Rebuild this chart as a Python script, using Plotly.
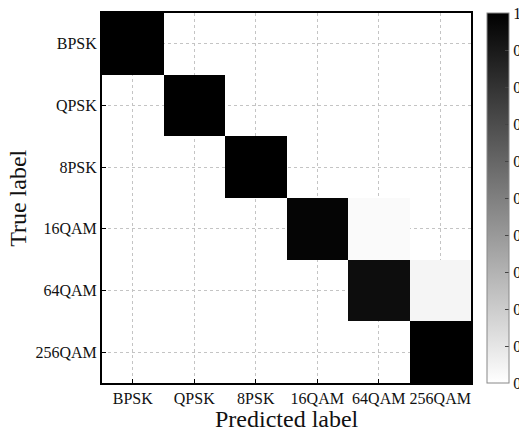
import plotly.graph_objects as go

classes = ["BPSK", "QPSK", "8PSK", "16QAM", "64QAM", "256QAM"]
# rows = true label, cols = predicted label
z = [
    [1.00, 0.00, 0.00, 0.00, 0.00, 0.00],
    [0.00, 1.00, 0.00, 0.00, 0.00, 0.00],
    [0.00, 0.00, 1.00, 0.00, 0.00, 0.00],
    [0.00, 0.00, 0.00, 0.98, 0.02, 0.00],
    [0.00, 0.00, 0.00, 0.00, 0.95, 0.04],
    [0.00, 0.00, 0.00, 0.00, 0.00, 1.00],
]
cbar_ticks = [0, 0.1, 0.2, 0.3, 0.4, 0.5, 0.6, 0.7, 0.8, 0.9, 1]
cbar_text = ["0", "0.1", "0.2", "0.3", "0.4", "0.5", "0.6", "0.7", "0.8", "0.9", "1"]

zplot = [[v if v > 0 else None for v in row] for row in z]

font = "Liberation Serif, Times New Roman, serif"
txt = "#111111"

fig = go.Figure(go.Heatmap(
    z=zplot,
    x=list(range(len(classes))),
    y=list(range(len(classes))),
    zmin=0, zmax=1,
    colorscale=[[0, "#ffffff"], [1, "#000000"]],
    colorbar=dict(
        x=1.043, xanchor="left", xpad=0, y=0.5, yanchor="middle",
        len=1, lenmode="fraction", thickness=22, thicknessmode="pixels",
        outlinewidth=1, outlinecolor="#888888",
        tickvals=cbar_ticks, ticktext=cbar_text,
        ticks="inside", ticklen=4, tickcolor="#444444",
        tickfont=dict(family=font, size=16, color=txt),
        ypad=0,
    ),
    hoverinfo="skip",
))

axis_common = dict(
    showline=True, linecolor="black", linewidth=2, mirror=True,
    showgrid=True, gridcolor="#c4c4c4", griddash="dot", gridwidth=1,
    zeroline=False, ticks="inside", ticklen=4, tickcolor="black",
    tickfont=dict(family=font, size=16, color=txt),
    automargin=False,
)

fig.update_layout(
    width=519, height=431,
    margin=dict(l=102, r=48, t=13, b=48, autoexpand=False),
    paper_bgcolor="white", plot_bgcolor="white",
    xaxis=dict(axis_common, range=[-0.5, 5.5], tickvals=list(range(6)), ticktext=classes),
    yaxis=dict(axis_common, range=[5.5, -0.5], tickvals=list(range(6)), ticktext=classes),
    showlegend=False,
    annotations=[
        dict(text="Predicted label", xref="paper", yref="paper", x=0.5, y=-0.097,
             xanchor="center", yanchor="middle", showarrow=False,
             font=dict(family=font, size=24, color=txt)),
        dict(text="True label", xref="paper", yref="paper", x=-0.228, y=0.5,
             xanchor="center", yanchor="middle", showarrow=False, textangle=-90,
             font=dict(family=font, size=24, color=txt)),
    ],
)

fig.write_html("out.html", config={"displayModeBar": False},
               post_script="document.body.style.margin='0';document.body.style.overflow='hidden';")
